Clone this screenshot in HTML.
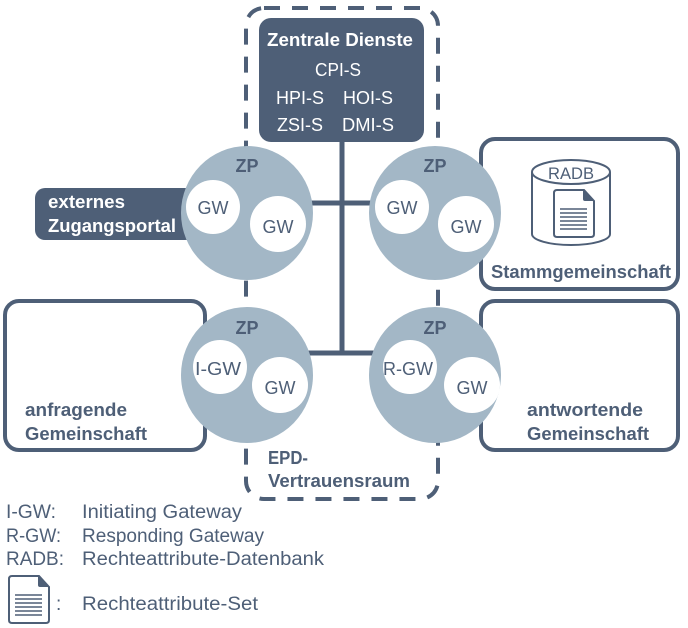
<!DOCTYPE html>
<html><head><meta charset="utf-8"><style>
html,body{margin:0;padding:0;background:#fff;}
svg{display:block;}
text{font-family:"Liberation Sans",sans-serif;}
</style></head><body>
<svg width="688" height="628" viewBox="0 0 688 628" xmlns="http://www.w3.org/2000/svg">
<defs>
<g id="doc">
<path d="M0 3 Q0 0 3 0 L30 0 L40 11 L40 44 Q40 47 37 47 L3 47 Q0 47 0 44 Z" fill="#fff" stroke="#4e5f77" stroke-width="2"/>
<path d="M29 0 L40 11 L31 11 Q29 11 29 9 Z" fill="#4e5f77"/>
<g stroke="#4e5f77" stroke-width="1.6">
<line x1="6" y1="19" x2="33" y2="19"/><line x1="6" y1="23" x2="33" y2="23"/><line x1="6" y1="27" x2="33" y2="27"/><line x1="6" y1="31" x2="33" y2="31"/><line x1="6" y1="35" x2="33" y2="35"/><line x1="6" y1="39" x2="33" y2="39"/>
</g>
</g>
</defs>
<rect x="246" y="8" width="192" height="491" rx="18" fill="none" stroke="#4e5f77" stroke-width="4" stroke-dasharray="16 12"/>
<rect x="5" y="301" width="200" height="149" rx="14" fill="#fff" stroke="#4e5f77" stroke-width="4"/>
<rect x="481" y="301" width="197" height="149" rx="14" fill="#fff" stroke="#4e5f77" stroke-width="4"/>
<rect x="481" y="139" width="197" height="150" rx="14" fill="#fff" stroke="#4e5f77" stroke-width="4"/>
<g stroke="#4e5f77" stroke-width="5">
<line x1="342" y1="140" x2="342" y2="355"/>
<line x1="305" y1="203" x2="380" y2="203"/>
<line x1="305" y1="353" x2="380" y2="353"/>
</g>
<rect x="259" y="18" width="165" height="124" rx="12" fill="#4e5f77"/>
<g fill="#fff" font-size="18" text-anchor="middle">
<text x="340" y="46" font-weight="bold" textLength="146" lengthAdjust="spacingAndGlyphs">Zentrale Dienste</text>
<text x="338" y="76" textLength="46" lengthAdjust="spacingAndGlyphs">CPI-S</text>
<text x="300" y="104" textLength="48" lengthAdjust="spacingAndGlyphs">HPI-S</text>
<text x="368" y="104" textLength="50" lengthAdjust="spacingAndGlyphs">HOI-S</text>
<text x="300" y="131" textLength="46" lengthAdjust="spacingAndGlyphs">ZSI-S</text>
<text x="368" y="131" textLength="52" lengthAdjust="spacingAndGlyphs">DMI-S</text>
</g>
<rect x="35" y="188" width="160" height="52" rx="10" fill="#4e5f77"/>
<g fill="#fff" font-size="18" font-weight="bold">
<text x="48" y="208" textLength="77" lengthAdjust="spacingAndGlyphs">externes</text>
<text x="48" y="232" textLength="128" lengthAdjust="spacingAndGlyphs">Zugangsportal</text>
</g>
<g fill="#a3b7c6">
<ellipse cx="247" cy="213" rx="66" ry="67"/>
<ellipse cx="435" cy="213" rx="66" ry="67"/>
<ellipse cx="247" cy="375" rx="66" ry="68"/>
<ellipse cx="435" cy="375" rx="66" ry="68"/>
</g>
<g fill="#fff">
<circle cx="213" cy="207" r="27"/><circle cx="278" cy="224" r="28"/>
<circle cx="402" cy="207" r="27"/><circle cx="466" cy="224" r="28"/>
<circle cx="220" cy="367" r="27"/><circle cx="280" cy="385" r="28"/>
<circle cx="410" cy="367" r="27"/><circle cx="472" cy="385" r="28"/>
</g>
<g fill="#4e5f77" font-size="18" font-weight="bold" text-anchor="middle">
<text x="247" y="172">ZP</text><text x="435" y="172">ZP</text>
<text x="247" y="334">ZP</text><text x="435" y="334">ZP</text>
</g>
<g fill="#4e5f77" font-size="18" text-anchor="middle">
<text x="213" y="214">GW</text><text x="278" y="233">GW</text>
<text x="402" y="214">GW</text><text x="466" y="233">GW</text>
<text x="218" y="375" textLength="46" lengthAdjust="spacingAndGlyphs">I-GW</text><text x="280" y="394">GW</text>
<text x="408" y="375" textLength="50" lengthAdjust="spacingAndGlyphs">R-GW</text><text x="472" y="394">GW</text>
</g>
<path d="M532 172 L532 234 A39 11 0 0 0 610 234 L610 172" fill="#fff" stroke="#4e5f77" stroke-width="2"/>
<ellipse cx="571" cy="172" rx="39" ry="12" fill="#fff" stroke="#4e5f77" stroke-width="2"/>
<text x="571" y="179" font-size="17" fill="#4e5f77" text-anchor="middle" textLength="46" lengthAdjust="spacingAndGlyphs">RADB</text>
<use href="#doc" x="554" y="190"/>
<text x="491" y="278" font-size="18" font-weight="bold" fill="#4e5f77" textLength="180" lengthAdjust="spacingAndGlyphs">Stammgemeinschaft</text>
<g fill="#4e5f77" font-size="18" font-weight="bold">
<text x="25" y="416" textLength="102" lengthAdjust="spacingAndGlyphs">anfragende</text>
<text x="25" y="440" textLength="122" lengthAdjust="spacingAndGlyphs">Gemeinschaft</text>
<text x="527" y="416" textLength="116" lengthAdjust="spacingAndGlyphs">antwortende</text>
<text x="527" y="440" textLength="122" lengthAdjust="spacingAndGlyphs">Gemeinschaft</text>
<text x="268" y="464" textLength="40" lengthAdjust="spacingAndGlyphs">EPD-</text>
<text x="268" y="487" textLength="142" lengthAdjust="spacingAndGlyphs">Vertrauensraum</text>
</g>
<g fill="#4e5f77" font-size="19">
<text x="6" y="518" textLength="50" lengthAdjust="spacingAndGlyphs">I-GW:</text><text x="82" y="518" textLength="160" lengthAdjust="spacingAndGlyphs">Initiating Gateway</text>
<text x="6" y="542" textLength="55" lengthAdjust="spacingAndGlyphs">R-GW:</text><text x="82" y="542" textLength="182" lengthAdjust="spacingAndGlyphs">Responding Gateway</text>
<text x="6" y="565" textLength="58" lengthAdjust="spacingAndGlyphs">RADB:</text><text x="82" y="565" textLength="242" lengthAdjust="spacingAndGlyphs">Rechteattribute-Datenbank</text>
<text x="56" y="610">:</text><text x="82" y="610" textLength="176" lengthAdjust="spacingAndGlyphs">Rechteattribute-Set</text>
</g>
<use href="#doc" x="9" y="576"/>
</svg>
</body></html>
